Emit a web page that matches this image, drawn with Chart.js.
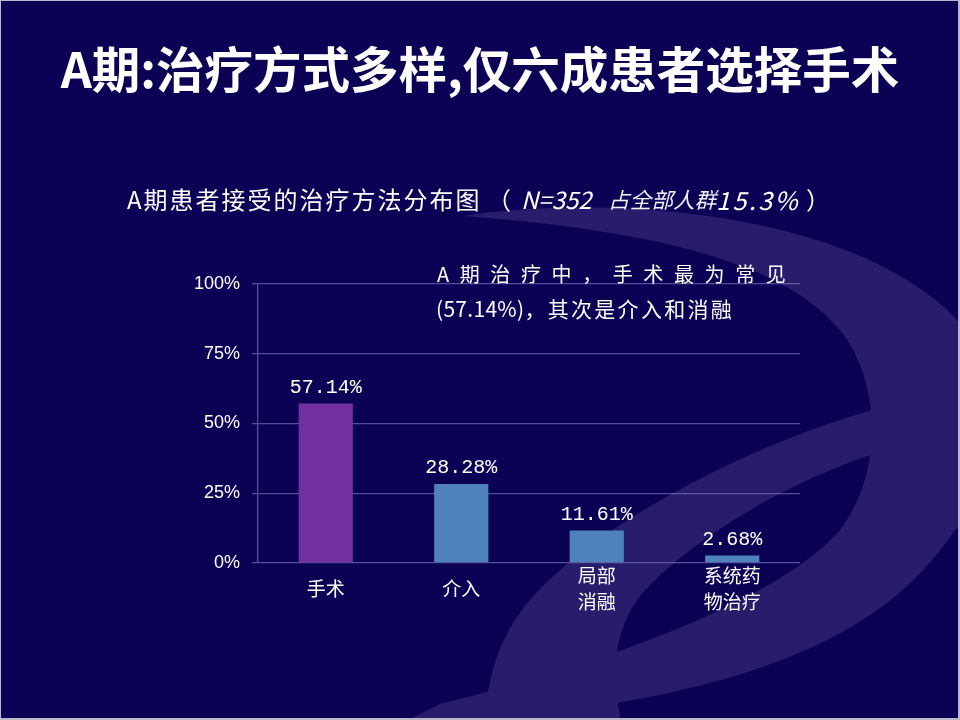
<!DOCTYPE html>
<html>
<head>
<meta charset="utf-8">
<script src="https://cdn.jsdelivr.net/npm/chart.js@4.4.0/dist/chart.umd.min.js"></script>
<style>
  html, body { margin: 0; padding: 0; background: #0b0256; }
  #slide { position: relative; width: 960px; height: 720px; overflow: hidden; background: #0b0256; }
  #chartBox { position: absolute; left: 0; top: 0; width: 960px; height: 720px; }
  .txt { position: absolute; color: #ffffff; white-space: nowrap;
         font-family: "Noto Sans CJK SC", "Noto Sans", sans-serif; }
  #title { left: 0; width: 960px; text-align: center; top: 38px; font-size: 48.5px;
           line-height: 58px; font-weight: 700; }
  .sub { top: 184px; font-size: 24px; line-height: 30px; }
  #sub1 { left: 127px; letter-spacing: 2px; }
  #sub2 { left: 487px; }
  #sub3 { left: 521px; font-style: italic; }
  #sub4 { left: 608px; font-style: italic; font-size: 21.5px; letter-spacing: 0.2px; color: #f0f0f8; }
  #sub5 { left: 716px; font-style: italic; letter-spacing: 2.5px; font-size: 25px; }
  #sub6 { left: 806px; }
  #note1 { left: 437px; top: 260px; font-size: 20px; line-height: 28px; letter-spacing: 10.6px; }
  #note2 { left: 436px; top: 294px; font-size: 21px; line-height: 28px; letter-spacing: 2.3px; }
  #note2 .lat { letter-spacing: 0.3px; }
  #frame { position: absolute; left: 0; top: 0; width: 960px; height: 720px; box-sizing: border-box;
           border: 1px solid #b9b9cc; border-right-width: 2px; border-bottom-width: 2px; pointer-events: none; }
</style>
</head>
<body>
<div id="slide">
  <div id="chartBox"><canvas id="c" width="960" height="720"></canvas></div>
  <div class="txt" id="title">A期:治疗方式多样,仅六成患者选择手术</div>
  <div class="txt sub" id="sub1">A期患者接受的治疗方法分布图</div>
  <div class="txt sub" id="sub2">（</div>
  <div class="txt sub" id="sub3">N=352</div>
  <div class="txt sub" id="sub4">占全部人群</div>
  <div class="txt sub" id="sub5">15.3%</div>
  <div class="txt sub" id="sub6">）</div>
  <div class="txt" id="note1">A期治疗中，手术最为常见</div>
  <div class="txt" id="note2"><span class="lat">(57.14%)</span>，其次是介入和消融</div>
  <div id="frame"></div>
</div>
<script>
// ---- data ----
const categories = ['手术', '介入', '局部消融', '系统药物治疗'];
const categoryTickLabels = [['手术'], ['介入'], ['局部', '消融'], ['系统药', '物治疗']];
const shareValues = [57.14, 28.28, 11.61, 2.68];
const yTickValues = [0, 25, 50, 75, 100];

// ---- styles ----
const BG = '#0b0256';
const SWOOSH = '#271d6c';
const GRID = 'rgba(135,130,200,0.6)';
const barFill = ['#7030a0', '#4f81bd', '#4f81bd', '#4f81bd'];

const backgroundPlugin = {
  id: 'slideBackground',
  beforeDraw(chart) {
    const ctx = chart.ctx;
    ctx.save();
    ctx.fillStyle = BG;
    ctx.fillRect(0, 0, chart.width, chart.height);
    ctx.fillStyle = SWOOSH;
    // large crescent ring
    ctx.beginPath();
    ctx.moveTo(462, 216);
    ctx.bezierCurveTo(600, 195, 820, 210, 930, 296);
    ctx.bezierCurveTo(1015, 355, 1015, 490, 955, 530);
    ctx.bezierCurveTo(900, 610, 800, 700, 430, 724);
    ctx.lineTo(400, 724);
    ctx.lineTo(440, 704);
    ctx.bezierCurveTo(600, 665, 780, 600, 840, 530);
    ctx.bezierCurveTo(885, 470, 880, 380, 840, 330);
    ctx.bezierCurveTo(790, 270, 680, 232, 462, 216);
    ctx.closePath();
    ctx.fill();
    // inner crossing band
    ctx.beginPath();
    ctx.moveTo(880, 408);
    ctx.bezierCurveTo(760, 440, 600, 520, 530, 600);
    ctx.bezierCurveTo(495, 640, 485, 690, 486, 724);
    ctx.lineTo(622, 724);
    ctx.bezierCurveTo(608, 670, 615, 620, 650, 585);
    ctx.bezierCurveTo(700, 535, 790, 480, 880, 452);
    ctx.closePath();
    ctx.fill();
    ctx.restore();
  }
};

const valueLabelPlugin = {
  id: 'valueLabels',
  afterDatasetsDraw(chart) {
    const ctx = chart.ctx;
    const meta = chart.getDatasetMeta(0);
    ctx.save();
    ctx.fillStyle = '#ffffff';
    ctx.font = '20px "Liberation Mono", "DejaVu Sans Mono", monospace';
    ctx.textAlign = 'center';
    ctx.textBaseline = 'alphabetic';
    meta.data.forEach((bar, i) => {
      const txt = shareValues[i].toFixed(2) + '%';
      ctx.fillText(txt, bar.x, bar.y - 11);
    });
    ctx.restore();
  }
};

new Chart(document.getElementById('c'), {
  type: 'bar',
  data: {
    labels: categories,
    datasets: [{
      data: shareValues,
      backgroundColor: barFill,
      borderWidth: 0,
      barPercentage: 0.4,
      categoryPercentage: 1.0
    }]
  },
  options: {
    responsive: false,
    animation: false,
    devicePixelRatio: 1,
    layout: { padding: { left: 0, right: 160, top: 284, bottom: 0 } },
    plugins: { legend: { display: false }, title: { display: false }, tooltip: { enabled: false } },
    scales: {
      x: {
        grid: { display: false },
        border: { display: false },
        afterFit(scale) { scale.height = 157; },
        ticks: {
          color: '#ffffff',
          padding: 5,
          crossAlign: 'center',
          maxRotation: 0,
          autoSkip: false,
          font: { family: '"Noto Sans CJK SC", sans-serif', size: 19, lineHeight: 1.37 },
          callback: (v, i) => categoryTickLabels[i]
        }
      },
      y: {
        min: 0,
        max: 100,
        afterFit(scale) { scale.width = 258; },
        afterBuildTicks(scale) { scale.ticks = yTickValues.map(v => ({ value: v })); },
        grid: { color: GRID, lineWidth: 1.3, tickLength: 6, drawTicks: true },
        border: { display: true, color: GRID, width: 1.3 },
        ticks: {
          color: '#ffffff',
          padding: 12,
          font: { family: '"Liberation Sans Narrow", "Liberation Sans", sans-serif', size: 18 },
          callback: v => v + '%'
        }
      }
    }
  },
  plugins: [backgroundPlugin, valueLabelPlugin]
});
</script>
</body>
</html>
